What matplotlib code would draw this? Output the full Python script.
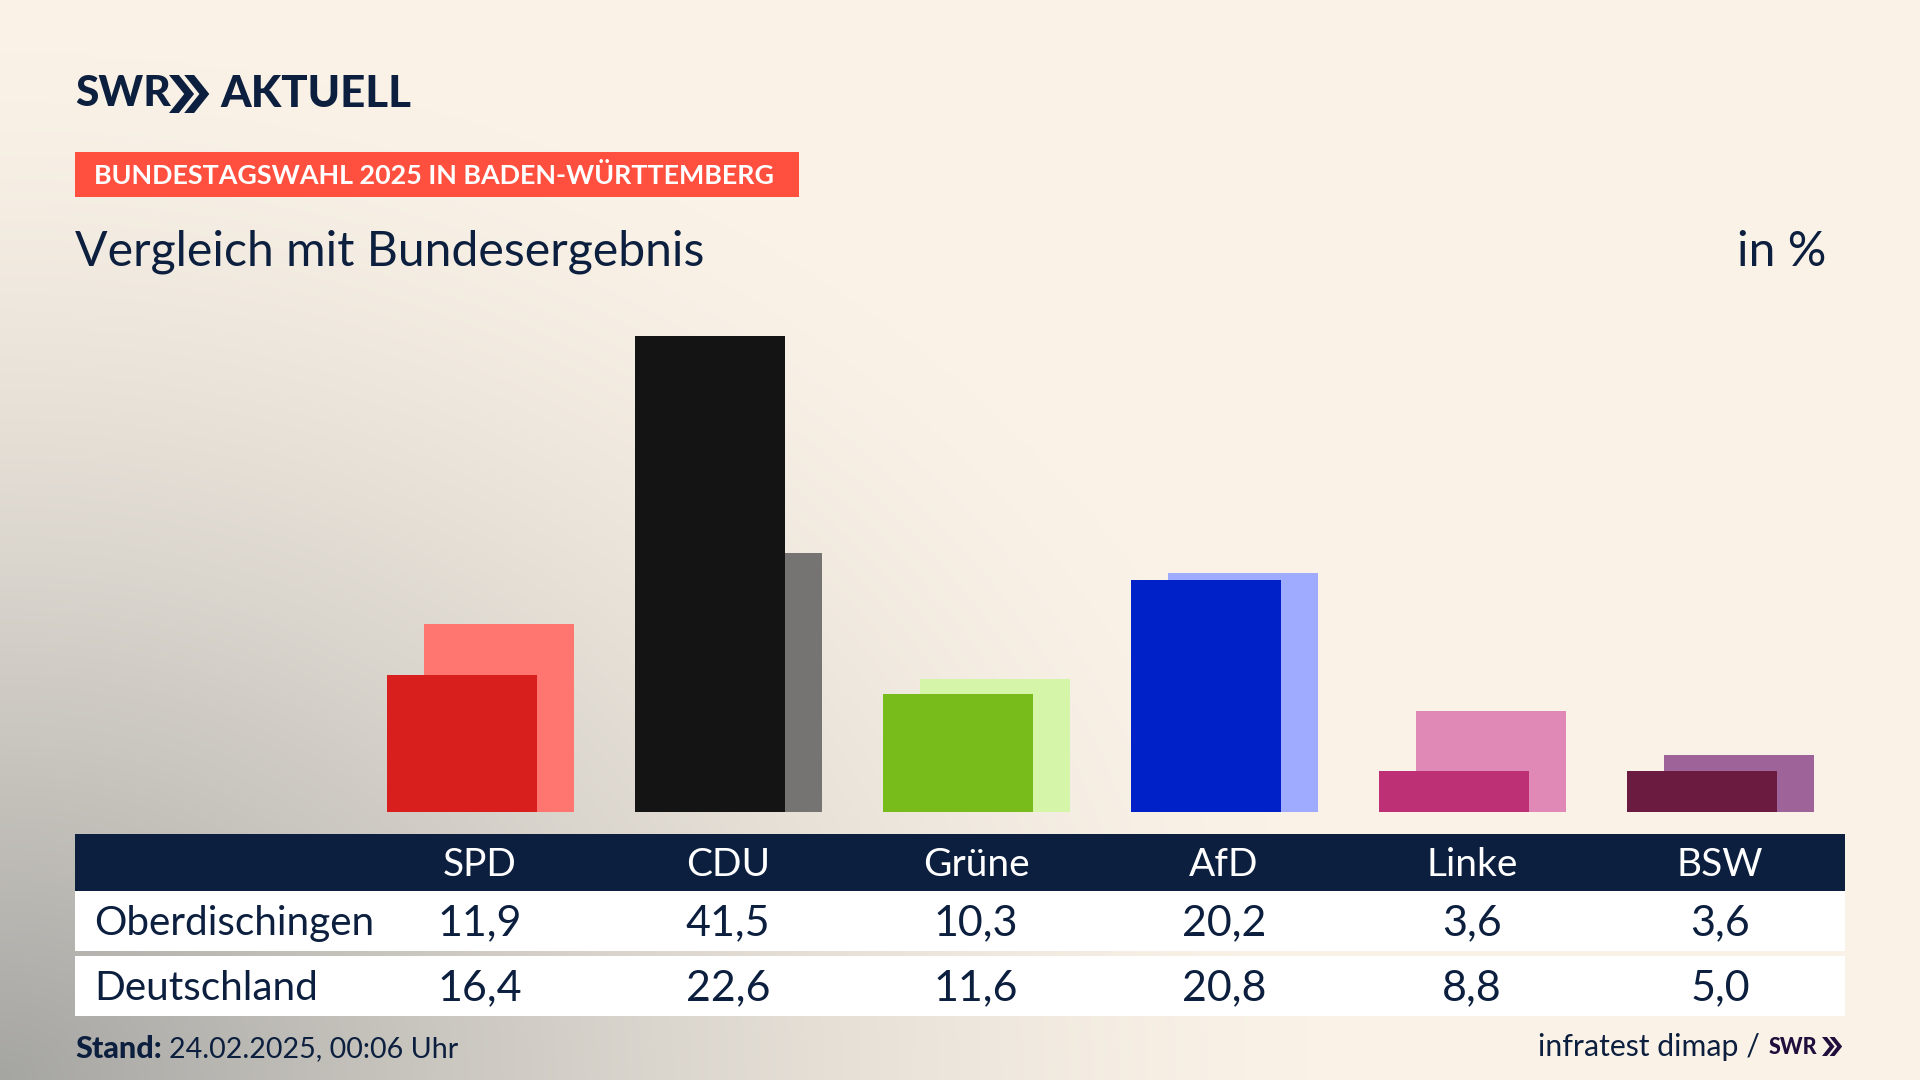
import numpy as np
import matplotlib
matplotlib.use("Agg")
import matplotlib.pyplot as plt
from matplotlib.patches import Rectangle, Polygon

parties = ["SPD", "CDU", "Grüne", "AfD", "Linke", "BSW"]
oberdischingen = [11.9, 41.5, 10.3, 20.2, 3.6, 3.6]
deutschland = [16.4, 22.6, 11.6, 20.8, 8.8, 5.0]
front_colors = ["#D91F1D", "#141414", "#78BC1B", "#0021C8", "#BD3075", "#6B1A40"]
back_colors = ["#FF7570", "#757472", "#D5F5A9", "#9EABFF", "#E088B6", "#9E6399"]

NAVY = "#0C1F3E"
W, H = 1920, 1080
plt.rcParams["font.family"] = ["Lato", "DejaVu Sans"]

fig = plt.figure(figsize=(W / 100, H / 100), dpi=100)

# background, cream with a grey glow from the bottom left corner
bg = fig.add_axes([0, 0, 1, 1])
xx, yy = np.meshgrid(np.linspace(0, 1, 480), np.linspace(0, 1, 270))
dist = np.sqrt((xx / 0.68) ** 2 + ((1 - yy) / 0.95) ** 2)
glow = np.clip(1 - dist, 0, 1) ** 1.4
cream = np.array([250, 242, 231]) / 255
grey = np.array([165, 165, 162]) / 255
img = cream + (grey - cream) * glow[..., None]
bg.imshow(img, extent=[0, W, H, 0], aspect="auto", interpolation="bilinear")
bg.set_xlim(0, W)
bg.set_ylim(H, 0)
bg.axis("off")


def px_text(x, y, s, **kw):
    kw.setdefault("color", NAVY)
    kw.setdefault("va", "center")
    bg.text(x, y, s, **kw)


def chevrons(x, y, h, color):
    # the two arrows of the SWR logo
    w = h * 0.40
    t = h * 0.26
    for dx in (0, t + h * 0.14):
        pts = [(x + dx, y), (x + dx + t, y), (x + dx + t + w, y + h / 2),
               (x + dx + t, y + h), (x + dx, y + h), (x + dx + w, y + h / 2)]
        bg.add_patch(Polygon(pts, closed=True, fc=color, ec="none"))


# header
px_text(75, 94, "SWR", fontsize=30.5, fontweight="black")
chevrons(169, 75, 38, NAVY)
px_text(220, 94, "AKTUELL", fontsize=31.5, fontweight="black")
bg.add_patch(Rectangle((75, 152), 724, 45, fc="#FF4F3E", ec="none"))
px_text(94, 176, "BUNDESTAGSWAHL 2025 IN BADEN-WÜRTTEMBERG", fontsize=19.4, fontweight="bold", color="white")
px_text(75, 252, "Vergleich mit Bundesergebnis", fontsize=34.7)
px_text(1826, 252, "in %", fontsize=34.7, ha="right")

# bars
bar_left, bar_right = 75, 1845
bar_top, bar_bottom = 290, 812
col0, col_step = 480, 248
ax = fig.add_axes([bar_left / W, 1 - bar_bottom / H, (bar_right - bar_left) / W, (bar_bottom - bar_top) / H])
ax.patch.set_alpha(0)
x = np.arange(len(parties))
ax.bar(x + 0.0775, deutschland, width=0.605, color=back_colors)
ax.bar(x - 0.0725, oberdischingen, width=0.605, color=front_colors)
ax.set_xlim((bar_left - col0) / col_step, (bar_right - col0) / col_step)
ax.set_ylim(0, (bar_bottom - bar_top) / 11.48)
ax.axis("off")

# table below
bg.add_patch(Rectangle((75, 834), 1770, 57, fc=NAVY, ec="none"))
bg.add_patch(Rectangle((75, 891), 1770, 60, fc="white", ec="none"))
bg.add_patch(Rectangle((75, 956), 1770, 60, fc="white", ec="none"))
px_text(94, 923, "Oberdischingen", fontsize=29.2)
px_text(94, 988, "Deutschland", fontsize=29.2)
for i, party in enumerate(parties):
    cx = col0 + col_step * i
    px_text(cx, 865, party, fontsize=28, color="white", ha="center")
    px_text(cx, 923, f"{oberdischingen[i]:.1f}".replace(".", ","), fontsize=31, ha="center")
    px_text(cx, 988, f"{deutschland[i]:.1f}".replace(".", ","), fontsize=31, ha="center")

# footer
px_text(75, 1049, "Stand:", fontsize=22, fontweight="black")
px_text(169, 1049, "24.02.2025, 00:06 Uhr", fontsize=20.6)
px_text(1760, 1047, "infratest dimap /", fontsize=21.8, ha="right")
px_text(1769, 1047, "SWR", fontsize=15.5, fontweight="black", ha="left", color="#1E0F3C")
chevrons(1822, 1037, 19, "#1E0F3C")

fig.savefig("out.png", dpi=100)
